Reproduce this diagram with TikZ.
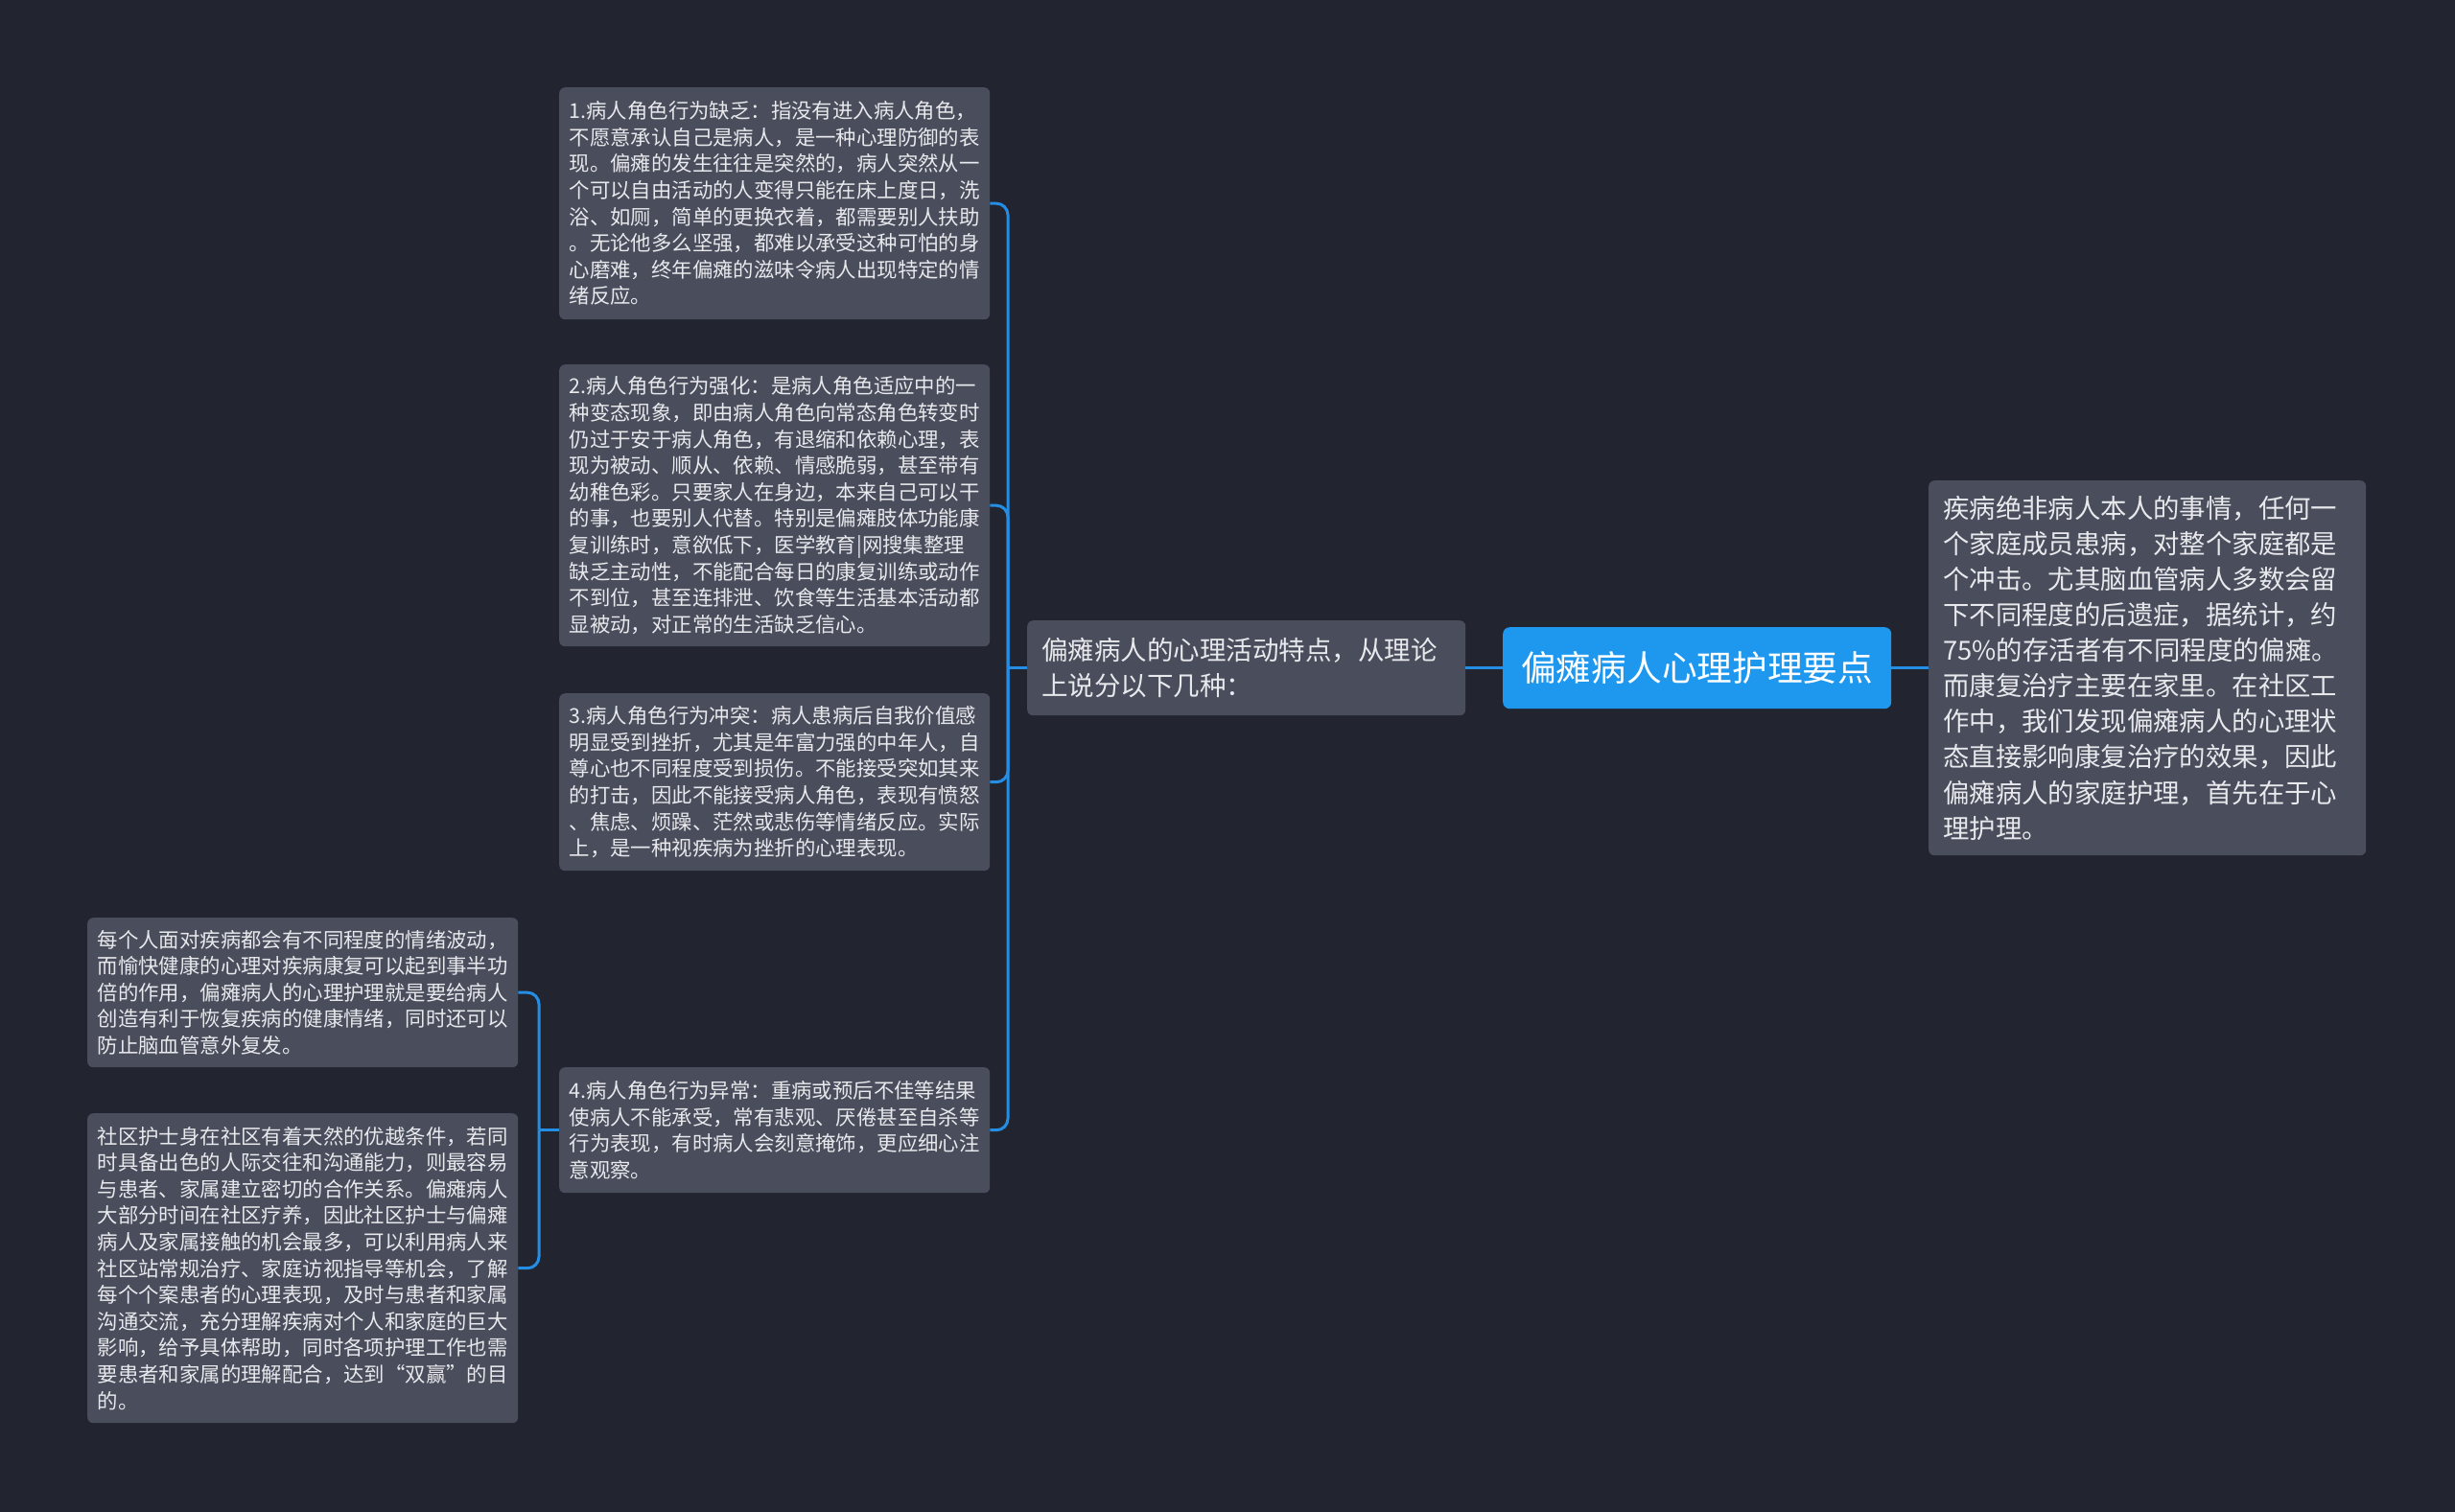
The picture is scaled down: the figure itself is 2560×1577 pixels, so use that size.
\documentclass[tikz,border=0pt]{standalone}
\usepackage{fontspec}
\setmainfont{Noto Sans CJK SC}
\definecolor{bgc}{RGB}{34,37,48}
\definecolor{nodegray}{RGB}{73,77,92}
\definecolor{textc}{RGB}{232,233,236}
\definecolor{rootblue}{RGB}{30,152,238}
\definecolor{linec}{RGB}{36,142,228}
\tikzset{
  sub/.style={fill=nodegray, rounded corners=6pt, text=textc,
    font=\fontsize{21.4}{27.6}\selectfont, align=left, text width=428pt,
    inner xsep=10.5pt, inner ysep=0pt, anchor=north west},
  midbox/.style={fill=nodegray, rounded corners=6pt, text=textc,
    font=\fontsize{27.5}{37.6}\selectfont, align=left, text width=427pt,
    inner xsep=15pt, inner ysep=0pt, anchor=north west},
  rightbox/.style={fill=nodegray, rounded corners=6pt, text=textc,
    font=\fontsize{27.4}{37.1}\selectfont, align=left, text width=426pt,
    inner xsep=15pt, inner ysep=0pt, anchor=north west},
  rootbox/.style={fill=rootblue, rounded corners=7pt, text=white,
    font=\fontsize{36.7}{44}\selectfont, align=center,
    inner xsep=0pt, inner ysep=0pt, anchor=north west},
  conn/.style={draw=linec, line width=3pt},
}
\begin{document}
\begin{tikzpicture}[x=1pt,y=-1pt]
\fill[bgc] (0,0) rectangle (2560,1577);
\useasboundingbox (0,0) rectangle (2560,1577);

\node[rootbox, minimum width=405pt, minimum height=85pt] (root) at (1567,654) {偏瘫病人心理护理要点};

\node[midbox, minimum height=99pt] (mid) at (1071,647) {偏瘫病人的心理活动特点，从理论\\上说分以下几种：};

\node[rightbox, minimum height=391pt] (right) at (2011,501) {疾病绝非病人本人的事情，任何一\\个家庭成员患病，对整个家庭都是\\个冲击。尤其脑血管病人多数会留\\下不同程度的后遗症，据统计，约\\75\%的存活者有不同程度的偏瘫。\\而康复治疗主要在家里。在社区工\\作中，我们发现偏瘫病人的心理状\\态直接影响康复治疗的效果，因此\\偏瘫病人的家庭护理，首先在于心\\理护理。};

\node[sub, minimum height=242pt] (n1) at (583,91) {1.病人角色行为缺乏：指没有进入病人角色，\\不愿意承认自己是病人，是一种心理防御的表\\现。偏瘫的发生往往是突然的，病人突然从一\\个可以自由活动的人变得只能在床上度日，洗\\浴、如厕，简单的更换衣着，都需要别人扶助\\。无论他多么坚强，都难以承受这种可怕的身\\心磨难，终年偏瘫的滋味令病人出现特定的情\\绪反应。};

\node[sub, minimum height=294pt] (n2) at (583,380) {2.病人角色行为强化：是病人角色适应中的一\\种变态现象，即由病人角色向常态角色转变时\\仍过于安于病人角色，有退缩和依赖心理，表\\现为被动、顺从、依赖、情感脆弱，甚至带有\\幼稚色彩。只要家人在身边，本来自己可以干\\的事，也要别人代替。特别是偏瘫肢体功能康\\复训练时，意欲低下，医学教育|网搜集整理\\缺乏主动性，不能配合每日的康复训练或动作\\不到位，甚至连排泄、饮食等生活基本活动都\\显被动，对正常的生活缺乏信心。};

\node[sub, minimum height=185pt] (n3) at (583,723) {3.病人角色行为冲突：病人患病后自我价值感\\明显受到挫折，尤其是年富力强的中年人，自\\尊心也不同程度受到损伤。不能接受突如其来\\的打击，因此不能接受病人角色，表现有愤怒\\、焦虑、烦躁、茫然或悲伤等情绪反应。实际\\上，是一种视疾病为挫折的心理表现。};

\node[sub, minimum height=131pt] (n4) at (583,1113) {4.病人角色行为异常：重病或预后不佳等结果\\使病人不能承受，常有悲观、厌倦甚至自杀等\\行为表现，有时病人会刻意掩饰，更应细心注\\意观察。};

\node[sub, minimum height=156pt] (la) at (91,957) {每个人面对疾病都会有不同程度的情绪波动，\\而愉快健康的心理对疾病康复可以起到事半功\\倍的作用，偏瘫病人的心理护理就是要给病人\\创造有利于恢复疾病的健康情绪，同时还可以\\防止脑血管意外复发。};

\node[sub, minimum height=323pt] (lb) at (91,1161) {社区护士身在社区有着天然的优越条件，若同\\时具备出色的人际交往和沟通能力，则最容易\\与患者、家属建立密切的合作关系。偏瘫病人\\大部分时间在社区疗养，因此社区护士与偏瘫\\病人及家属接触的机会最多，可以利用病人来\\社区站常规治疗、家庭访视指导等机会，了解\\每个个案患者的心理表现，及时与患者和家属\\沟通交流，充分理解疾病对个人和家庭的巨大\\影响，给予具体帮助，同时各项护理工作也需\\要患者和家属的理解配合，达到“双赢”的目\\的。};

% connectors
\draw[conn] (root.east) -- (root.east -| right.west);
\draw[conn] (root.west) -- (mid.east);

\coordinate (bus) at (1051,0);
\draw[conn] (mid.west) -- (mid.west -| bus);
\foreach \c in {n1,n2,n3,n4}
  \draw[conn, rounded corners=12pt] (mid.west -| bus) |- (\c.east);

\coordinate (lbus) at (562,0);
\draw[conn] (n4.west) -- (n4.west -| lbus);
\foreach \c in {la,lb}
  \draw[conn, rounded corners=12pt] (n4.west -| lbus) |- (\c.east);
\end{tikzpicture}
\end{document}
